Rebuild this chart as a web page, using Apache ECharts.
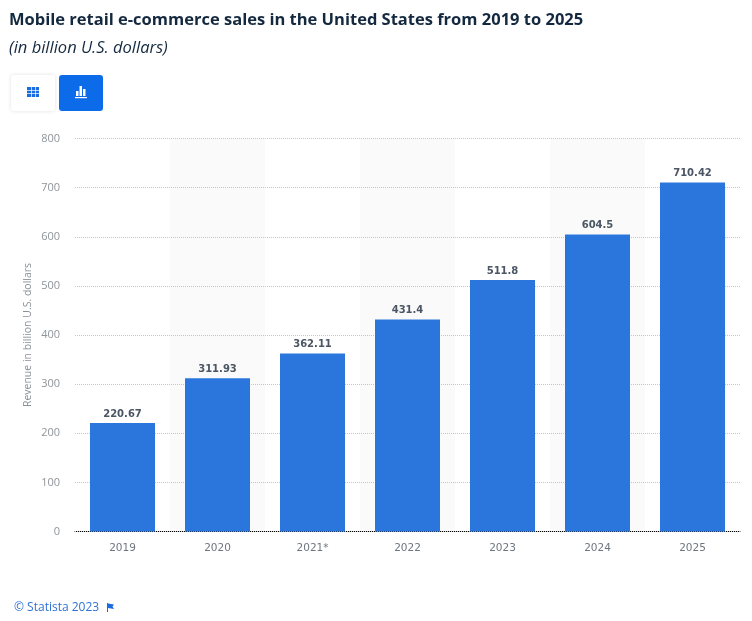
<!DOCTYPE html>
<html lang="en">

<head>
    <meta charset="UTF-8">
    <title>Mobile retail e-commerce sales</title>
</head>

<body style="height: 100%; margin: 0; background: #fff">
    <div id="container" style="width:752px;height:621px"></div>
    <script src="https://cdn.jsdelivr.net/npm/echarts@6/dist/echarts.min.js"></script>
    <script type="text/javascript">
        var years = ['2019', '2020', '2021*', '2022', '2023', '2024', '2025'];
        var revenue = [220.67, 311.93, 362.11, 431.4, 511.8, 604.5, 710.42];
        var valueTicks = { min: 0, max: 800, interval: 100 };
        var titleText = 'Mobile retail e-commerce sales in the United States from 2019 to 2025';
        var subtitleText = '(in billion U.S. dollars)';
        var yAxisName = 'Revenue in billion U.S. dollars';
        var creditText = '\u00a9 Statista 2023';

        var myChart = echarts.init(document.getElementById('container'));

        var option = {
            animation: false,
            title: [
                {
                    text: titleText,
                    left: 4, top: 7,
                    textStyle: { fontFamily: 'Open Sans', fontWeight: 700, fontSize: 16.5, color: '#14293f' }
                },
                {
                    text: subtitleText,
                    left: 4, top: 35,
                    textStyle: { fontFamily: 'Open Sans', fontWeight: 400, fontStyle: 'italic', fontSize: 16.5, color: '#14293f' }
                },
                {
                    text: creditText,
                    left: 9, top: 597,
                    textStyle: { fontFamily: 'Open Sans', fontWeight: 400, fontSize: 12, color: '#2f72d8' }
                }
            ],
            grid: { left: 75, right: 12, top: 138.5, bottom: 89.5 },
            xAxis: {
                type: 'category',
                data: years,
                z: 0,
                axisTick: { show: false },
                axisLine: { lineStyle: { color: '#000', width: 1 } },
                axisLabel: { fontFamily: 'DejaVu Sans', fontSize: 10.5, color: '#6f7680', margin: 11 },
                splitArea: { show: true, areaStyle: { color: ['#ffffff', '#fafafa'] } }
            },
            yAxis: {
                type: 'value',
                min: valueTicks.min,
                max: valueTicks.max,
                interval: valueTicks.interval,
                z: 1,   // keeps the dotted lines above the x axis bands
                name: yAxisName,
                nameLocation: 'middle',
                nameGap: 41,
                nameMoveOverlap: false,
                nameTextStyle: { fontFamily: 'Open Sans', fontSize: 10.5, color: '#8a9098' },
                axisLine: { show: false },
                axisTick: { show: false },
                axisLabel: { fontFamily: 'Open Sans', fontSize: 11, color: '#8f949a', margin: 15 },
                splitLine: { show: true, lineStyle: { color: '#c6c6c6', type: 'dotted', width: 1 } }
            },
            series: [{
                type: 'bar',
                data: revenue,
                barWidth: 65,
                z: 3,
                itemStyle: { color: '#2a76dd' },
                label: {
                    show: true,
                    position: 'top',
                    distance: 4,
                    fontFamily: 'DejaVu Sans',
                    fontWeight: 700,
                    fontSize: 10,
                    color: '#4b5563'
                }
            }],
            graphic: [
                // table / chart toggle buttons
                { type: 'rect', shape: { x: 11, y: 75, width: 44, height: 36, r: 3 }, style: { fill: '#fff', shadowBlur: 4, shadowColor: 'rgba(0,0,0,0.12)' } },
                { type: 'rect', shape: { x: 59, y: 75, width: 44, height: 36, r: 3 }, style: { fill: '#0b6be8' } },
                { type: 'rect', shape: { x: 27, y: 87, width: 12, height: 10 }, style: { fill: '#1a6be0' } },
                { type: 'rect', shape: { x: 27, y: 90, width: 12, height: 0.7 }, style: { fill: '#fff' } },
                { type: 'rect', shape: { x: 27, y: 93, width: 12, height: 0.7 }, style: { fill: '#fff' } },
                { type: 'rect', shape: { x: 31, y: 87, width: 0.7, height: 10 }, style: { fill: '#fff' } },
                { type: 'rect', shape: { x: 35, y: 87, width: 0.7, height: 10 }, style: { fill: '#fff' } },
                { type: 'rect', shape: { x: 76, y: 91, width: 2.5, height: 5 }, style: { fill: '#fff' } },
                { type: 'rect', shape: { x: 79.5, y: 86, width: 2.5, height: 10 }, style: { fill: '#fff' } },
                { type: 'rect', shape: { x: 83, y: 89, width: 2.5, height: 7 }, style: { fill: '#fff' } },
                { type: 'rect', shape: { x: 75, y: 97, width: 12, height: 1.2 }, style: { fill: '#fff' } },
                // flag next to the credit
                { type: 'rect', shape: { x: 107, y: 603, width: 1, height: 9 }, style: { fill: '#1a6be0' } },
                { type: 'polygon', shape: { points: [[108, 603.5], [114, 604.5], [112.5, 606.5], [114, 609], [108, 608]] }, style: { fill: '#1a6be0' } }
            ]
        };

        myChart.setOption(option);
    </script>
</body>

</html>
